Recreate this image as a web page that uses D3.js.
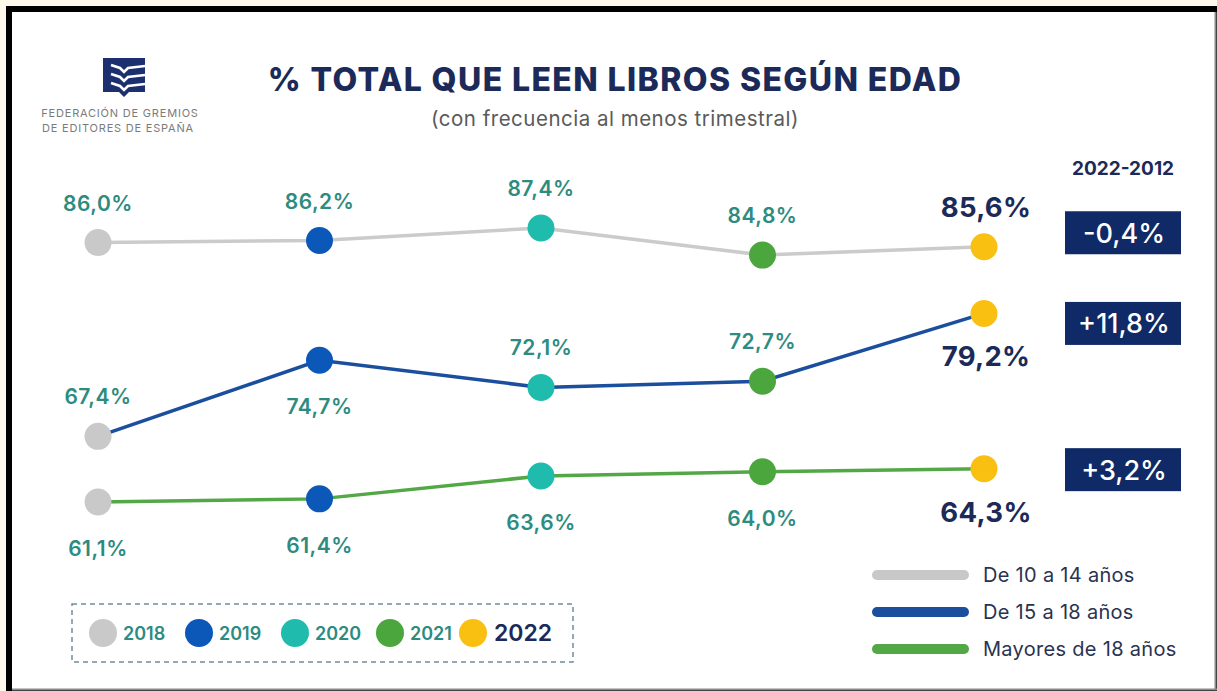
<!DOCTYPE html>
<html>
<head>
<meta charset="utf-8">
<script src="https://cdn.jsdelivr.net/npm/d3@7"></script>
<style>
  html, body { margin: 0; padding: 0; background: #fff9ec; }
  svg { display: block; font-family: Inter, "Noto Sans", sans-serif; }
</style>
</head>
<body>
<div id="chart"></div>
<script>
// data
const years = ["2018", "2019", "2020", "2021", "2022"];
const groups = ["De 10 a 14 años", "De 15 a 18 años", "Mayores de 18 años"];
const teen10_14 = [86.0, 86.2, 87.4, 84.8, 85.6];
const teen15_18 = [67.4, 74.7, 72.1, 72.7, 79.2];
const adults18 = [61.1, 61.4, 63.6, 64.0, 64.3];
const diff2012 = ["-0,4%", "+11,8%", "+3,2%"];
// label above (-1) or below (1) each point
const labelSide = [
  [-1, -1, -1, -1, -1],
  [-1, 1, -1, -1, 1],
  [1, 1, 1, 1, 1]
];

const yearColor = ["#c9c9c9", "#0b58b8", "#1fbcae", "#4ba63d", "#f9c012"];
const lineColor = ["#cbcbcb", "#1b4f9d", "#52a845"];
const navy = "#1b2a59";
const teal = "#2d8b80";

const width = 1217, height = 691;

const svg = d3.select("#chart").append("svg")
    .attr("width", width)
    .attr("height", height);

// frame
svg.append("rect").attr("x", 6).attr("y", 6).attr("width", width - 6).attr("height", height - 6).attr("fill", "#000");
svg.append("rect").attr("x", 12).attr("y", 12).attr("width", width - 14).attr("height", height - 14).attr("fill", "#fff");
svg.append("line").attr("x1", 1215.5).attr("x2", 1215.5).attr("y1", 12).attr("y2", 690).attr("stroke", "#8a8a8a").attr("stroke-width", 2);
svg.append("line").attr("x1", 12).attr("x2", 1217).attr("y1", 689.5).attr("y2", 689.5).attr("stroke", "#8a8a8a").attr("stroke-width", 2);

// logo
const logo = svg.append("g").attr("transform", "translate(103,58)");
logo.append("path")
    .attr("d", "M0,0 H42 V34 H26 L21,39 L16,34 H0 Z")
    .attr("fill", "#1c2f6e");
[10, 19, 28].forEach(function(yy) {
  logo.append("path")
      .attr("d", "M8," + (yy - 3) + " L17," + yy + " L21," + (yy + 4) + " L25," + yy + " L42," + (yy - 2))
      .attr("fill", "none").attr("stroke", "#fff").attr("stroke-width", 2.6);
});
svg.append("text").attr("x", 120).attr("y", 117).attr("text-anchor", "middle")
    .attr("font-size", 11).attr("fill", "#7b7b7b").attr("letter-spacing", 0.8)
    .text("FEDERACIÓN DE GREMIOS");
svg.append("text").attr("x", 118).attr("y", 132).attr("text-anchor", "middle")
    .attr("font-size", 11).attr("fill", "#7b7b7b").attr("letter-spacing", 0.8)
    .text("DE EDITORES DE ESPAÑA");

// titles
svg.append("text").attr("x", 615).attr("y", 91).attr("text-anchor", "middle")
    .attr("font-size", 32).attr("font-weight", 800).attr("fill", navy)
    .attr("letter-spacing", 1.4)
    .text("% TOTAL QUE LEEN LIBROS SEGÚN EDAD");
svg.append("text").attr("x", 615).attr("y", 126).attr("text-anchor", "middle")
    .attr("font-size", 20.5).attr("fill", "#5a5a5a").attr("letter-spacing", 0.5)
    .text("(con frecuencia al menos trimestral)");

// scales
const x = d3.scalePoint().domain(years).range([98, 984]);
const y = d3.scaleLinear().domain([61.1, 87.4]).range([502, 228]);

const series = [teen10_14, teen15_18, adults18];

const line = d3.line()
    .x((d, i) => x(years[i]))
    .y(d => y(d));

svg.selectAll("path.series")
    .data(series)
    .enter().append("path")
    .attr("class", "series")
    .attr("d", line)
    .attr("fill", "none")
    .attr("stroke", (d, i) => lineColor[i])
    .attr("stroke-width", 3.5);

series.forEach(function(vals, s) {
  const g = svg.append("g");
  g.selectAll("circle")
      .data(vals)
      .enter().append("circle")
      .attr("cx", (d, i) => x(years[i]))
      .attr("cy", d => y(d))
      .attr("r", 13.5)
      .attr("fill", (d, i) => yearColor[i]);

  g.selectAll("text")
      .data(vals)
      .enter().append("text")
      .attr("x", (d, i) => x(years[i]) + (i === 4 ? 2 : 0))
      .attr("y", function(d, i) {
        if (i === 4) return y(d) + (labelSide[s][i] < 0 ? -30 : 53);
        return y(d) + (labelSide[s][i] < 0 ? -32 : 54);
      })
      .attr("text-anchor", "middle")
      .attr("font-size", (d, i) => i === 4 ? 27.5 : 21)
      .attr("font-weight", (d, i) => i === 4 ? 700 : 600)
      .attr("letter-spacing", (d, i) => i === 4 ? 0.3 : 0.5)
      .attr("fill", (d, i) => i === 4 ? navy : teal)
      .text(d => d3.format(".1f")(d).replace(".", ",") + "%");
});

// 2022-2012 change boxes
const boxShift = [-14, 10, 1];
svg.append("text").attr("x", 1123).attr("y", 175).attr("text-anchor", "middle")
    .attr("font-size", 19).attr("font-weight", 700).attr("fill", navy)
    .text("2022-2012");
series.forEach(function(vals, s) {
  const cy = y(vals[4]) + boxShift[s];
  svg.append("rect").attr("x", 1065).attr("y", cy - 21.5)
      .attr("width", 116).attr("height", 43).attr("fill", "#0f2a66");
  svg.append("text").attr("x", 1124).attr("y", cy + 10).attr("text-anchor", "middle")
      .attr("font-size", 27).attr("font-weight", 500).attr("fill", "#fff")
      .text(diff2012[s]);
});

// year legend
svg.append("rect").attr("x", 72).attr("y", 604).attr("width", 501).attr("height", 58)
    .attr("fill", "none").attr("stroke", "#6f8e9a").attr("stroke-width", 1.5)
    .attr("stroke-dasharray", "5,4");
const legX = [103, 199, 295, 390, 473];
const legG = svg.append("g").selectAll("g")
    .data(years)
    .enter().append("g")
    .attr("transform", (d, i) => "translate(" + legX[i] + ",633)");
legG.append("circle").attr("r", 14).attr("fill", (d, i) => yearColor[i]);
legG.append("text")
    .attr("x", (d, i) => i === 4 ? 21 : 20)
    .attr("y", (d, i) => i === 4 ? 8 : 6.5)
    .attr("font-size", (d, i) => i === 4 ? 23 : 18)
    .attr("font-weight", 600)
    .attr("fill", (d, i) => i === 4 ? navy : teal)
    .text(d => d);

// group legend
const grpG = svg.append("g").selectAll("g")
    .data(groups)
    .enter().append("g")
    .attr("transform", (d, i) => "translate(0," + (575 + i * 37) + ")");
grpG.append("line").attr("x1", 877).attr("x2", 964)
    .attr("stroke", (d, i) => i === 0 ? "#c8c8c8" : lineColor[i])
    .attr("stroke-width", 10).attr("stroke-linecap", "round");
grpG.append("text").attr("x", 983).attr("y", 7)
    .attr("font-size", 20).attr("fill", "#2a3350").attr("letter-spacing", 0.3)
    .text(d => d);
</script>
</body>
</html>
